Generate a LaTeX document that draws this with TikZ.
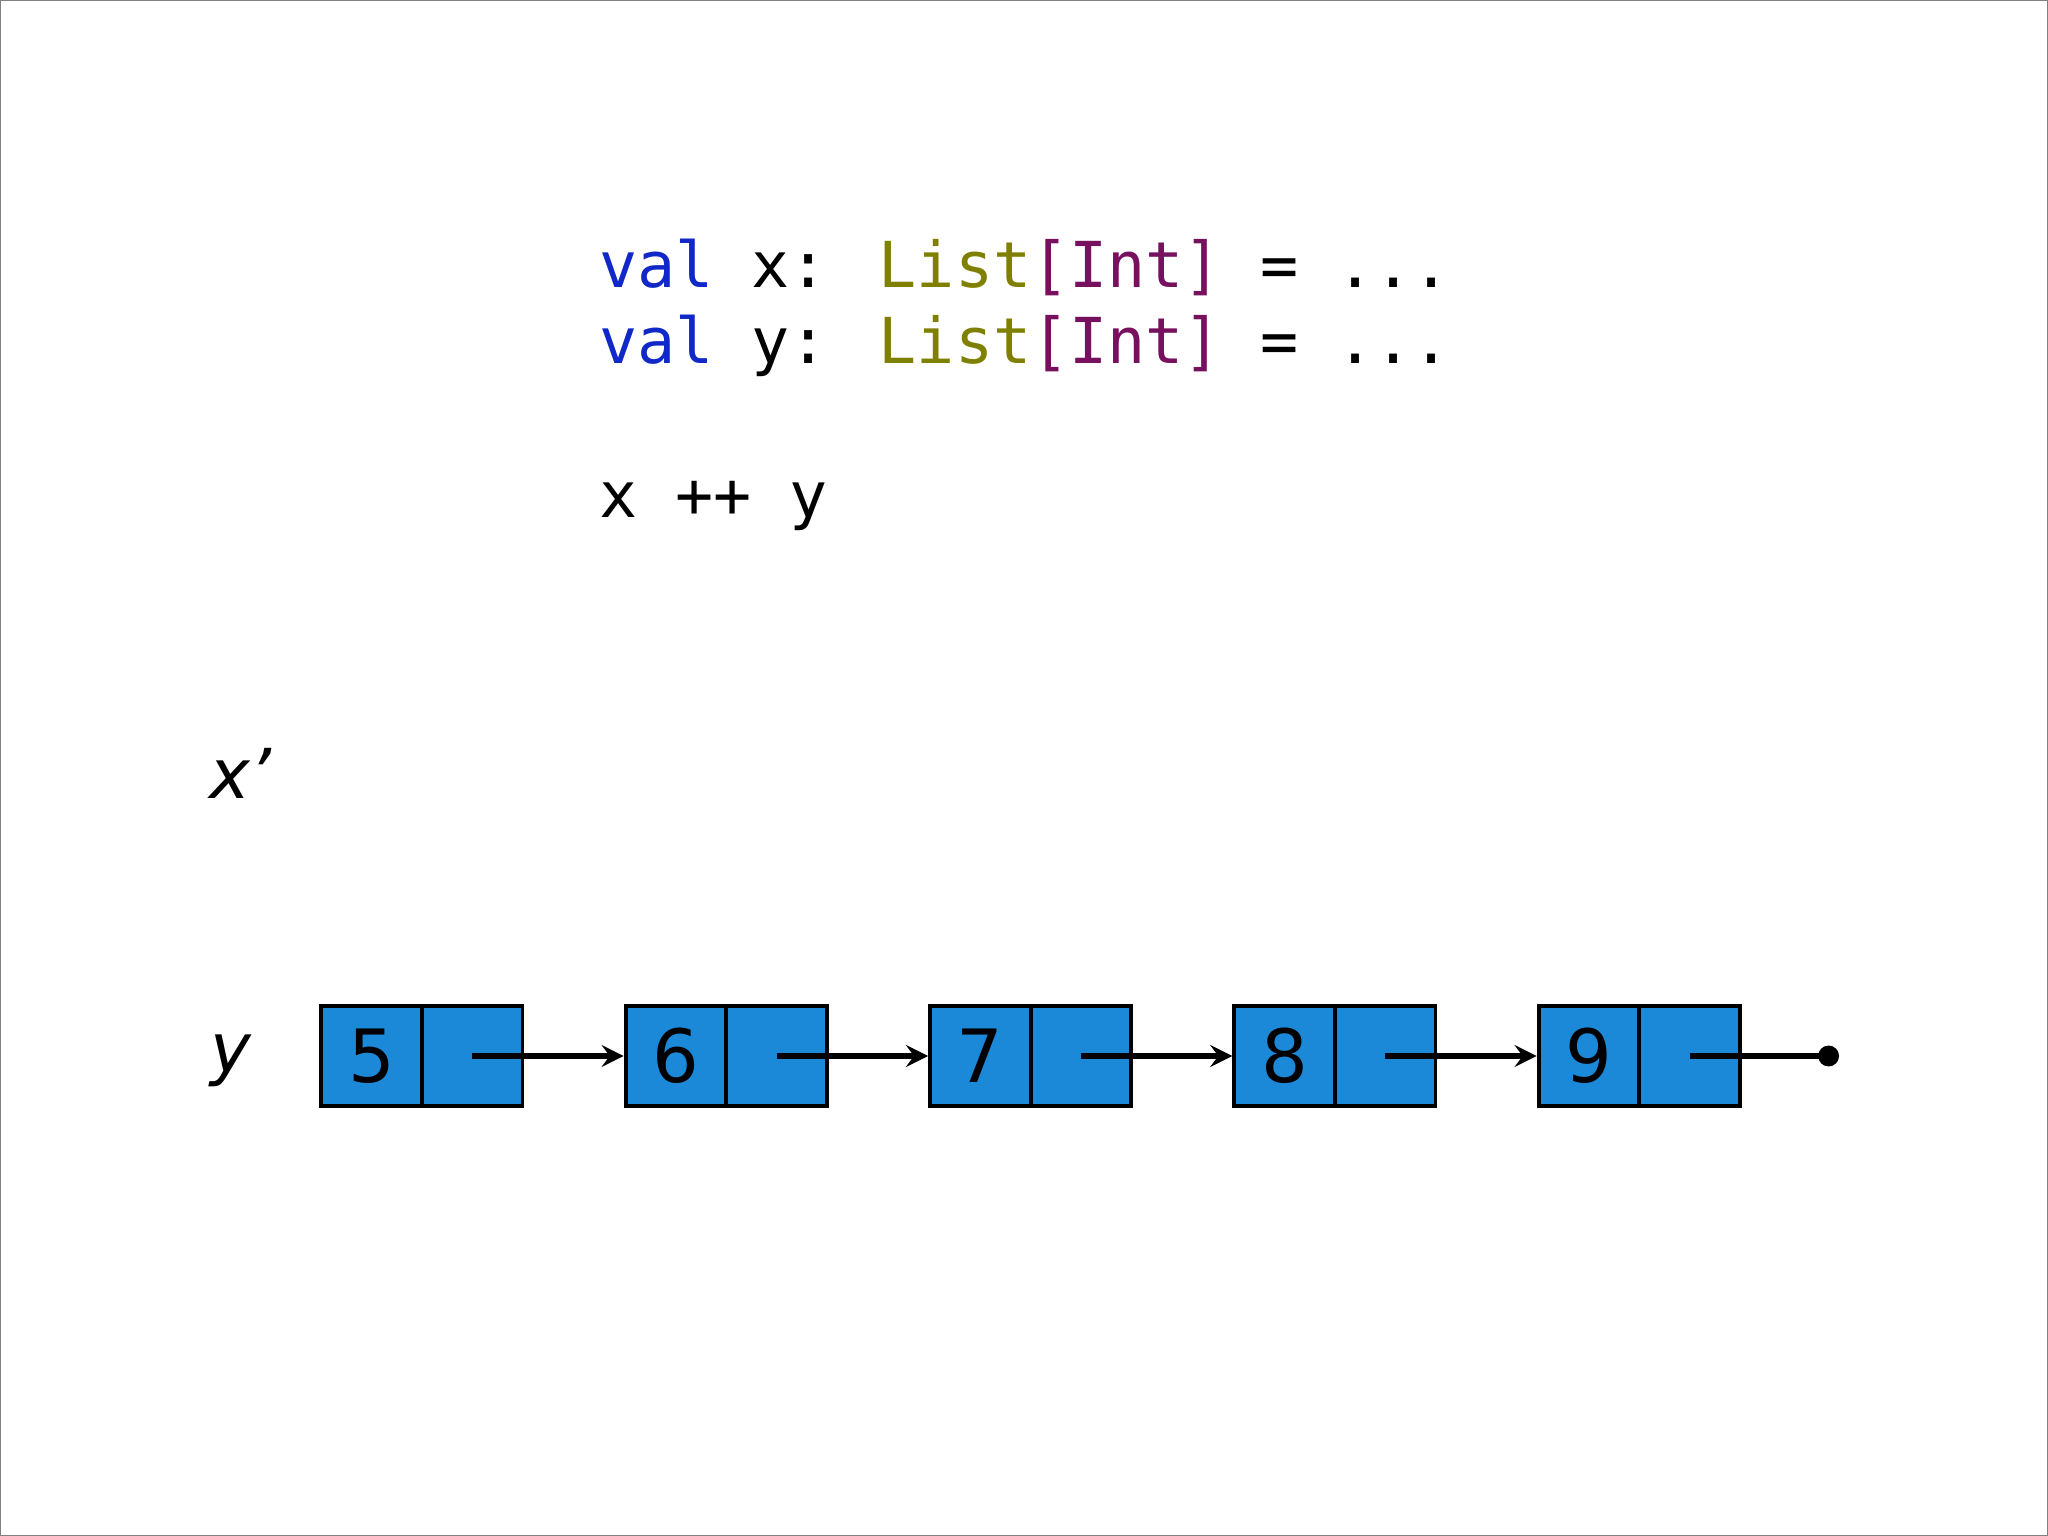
\documentclass[tikz,border=0pt]{standalone}
\usepackage{fontspec}
\setmainfont{DejaVu Sans}
\newfontfamily\codefont{DejaVu Sans Mono}
\definecolor{kwblue}{HTML}{1028C8}
\definecolor{typeolive}{HTML}{7F7F00}
\definecolor{argpurple}{HTML}{781060}
\definecolor{cellblue}{HTML}{1B88D8}
\tikzstyle{cell}=[draw=black,line width=0.85pt,fill=cellblue,minimum width=0.77cm,minimum height=0.77cm,inner sep=0pt,font=\fontsize{16}{16}\selectfont]
\tikzstyle{code}=[anchor=base west,inner sep=0pt,font=\codefont\fontsize{13.8}{13.8}\selectfont]
\tikzstyle{link}=[line width=1.1pt]
\begin{document}
\begin{tikzpicture}
	\useasboundingbox (0,0) rectangle (15.68,-11.76);
	\draw[gray] (0,0) rectangle (15.68,-11.76);
%
	\node[code] (line1) at (4.58,-2.2) {\textcolor{kwblue}{val} x: \textcolor{typeolive}{List}\textcolor{argpurple}{[Int]} = ...};
	\node[code] (line2) at (4.58,-2.78) {\textcolor{kwblue}{val} y: \textcolor{typeolive}{List}\textcolor{argpurple}{[Int]} = ...};
	\node[code] (line3) at (4.58,-3.96) {x ++ y};
%
	\node[font=\itshape\fontsize{15}{15}\selectfont] (xlabel) at (1.84,-5.92) {x’};
	\node[font=\itshape\fontsize{15}{15}\selectfont] (ylabel) at (1.77,-8.12) {y};
%
	\foreach \v [count=\i] in {5,...,9}{
		\node[cell] (v\i) at ({2.845+2.33*(\i-1)},-8.085) {\v};
		\node[cell] (p\i) at ({3.615+2.33*(\i-1)},-8.085) {};
	}
	\foreach \i [evaluate=\i as \j using int(\i+1)] in {1,...,4}
		\draw[-stealth,link] (p\i.center) -- (v\j.west);
	\coordinate (nil) at (14.0,-8.085);
	\draw[link] (p5.center) -- (nil);
	\fill (nil) circle (0.08);
\end{tikzpicture}
\end{document}
